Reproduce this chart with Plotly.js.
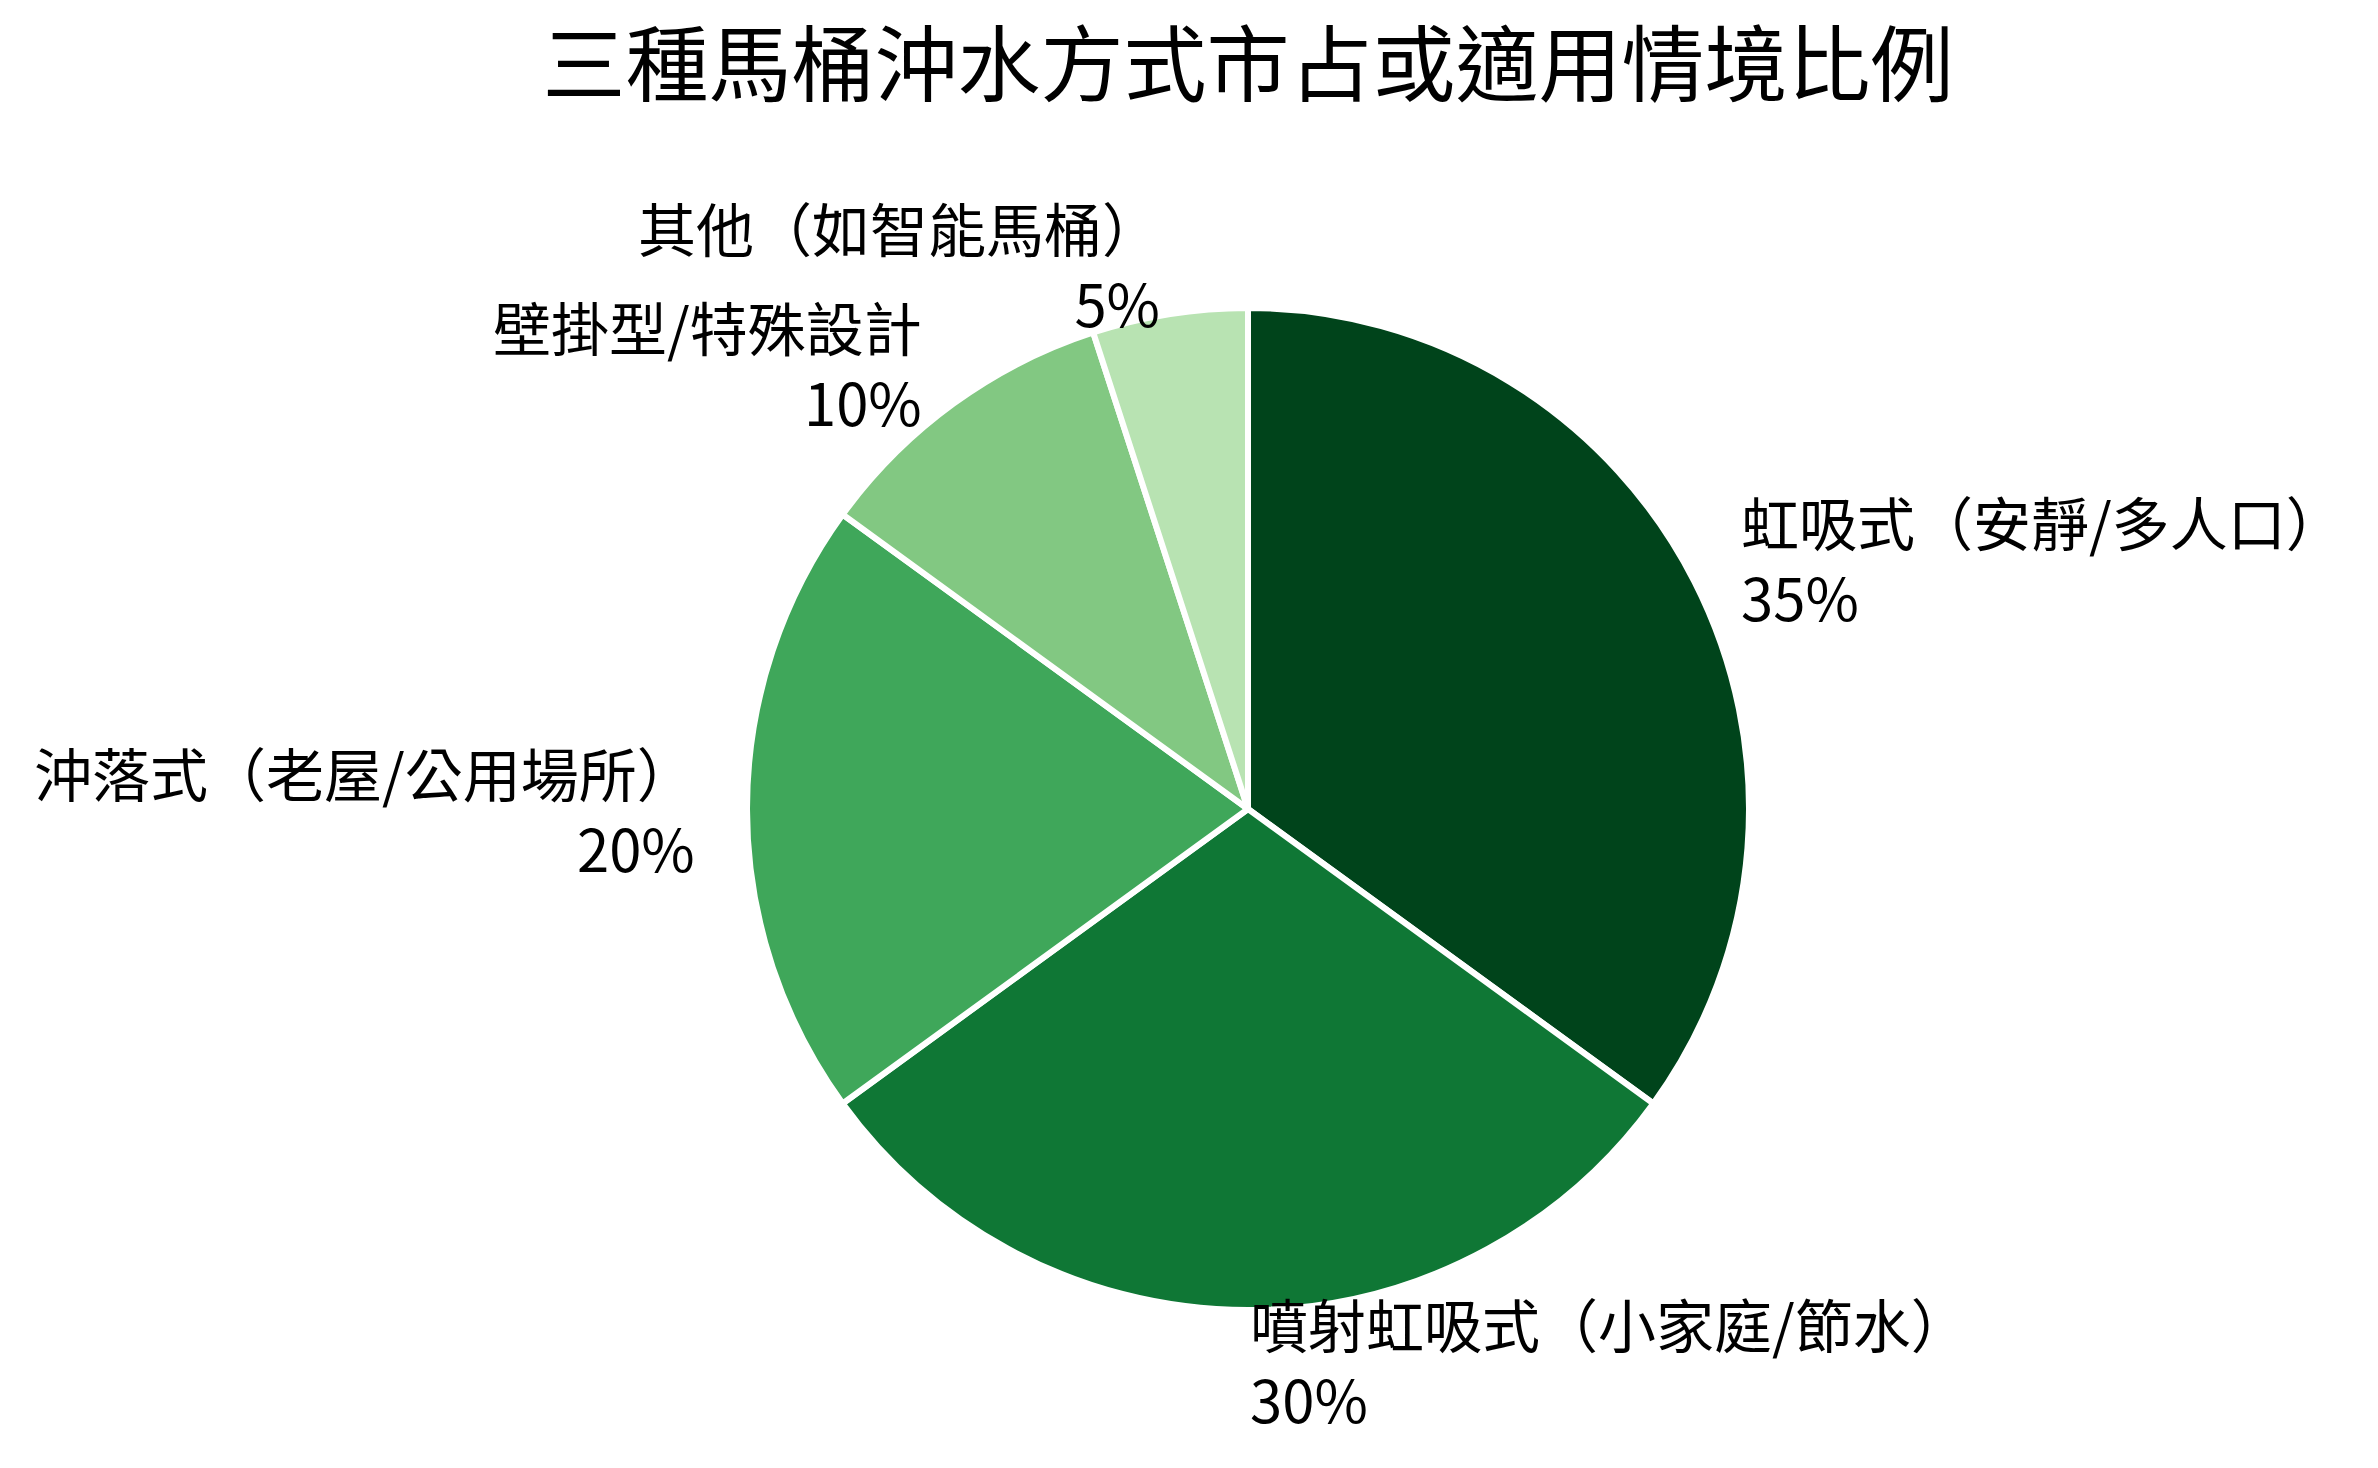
<!DOCTYPE html>
<html>
<head>
<meta charset="utf-8">
<script src="https://cdn.plot.ly/plotly-3.0.1.min.js"></script>
<style>html,body{margin:0;padding:0;background:#fff;}#chart{width:2378px;height:1468px;}</style>
</head>
<body>
<div id="chart"></div>
<script>
// ---- data ----
const categories = ['虹吸式（安靜/多人口）', '噴射虹吸式（小家庭/節水）', '沖落式（老屋/公用場所）', '壁掛型/特殊設計', '其他（如智能馬桶）'];
const shares = [35, 30, 20, 10, 5];
const colors = ['#00441b', '#0f7735', '#3fa75a', '#82c882', '#b8e3b2'];
const chartTitle = '三種馬桶沖水方式市占或適用情境比例';

// ---- layout geometry ----
const W = 2378, H = 1468;
const CX = 1248, CY = 809, R = 501;
const FONT = '"Noto Sans CJK TC", "Noto Sans CJK SC", sans-serif';
const LABEL_SIZE = 58;

const domainX = [(CX - R) / W, (CX + R) / W];
const domainY = [1 - (CY + R) / H, 1 - (CY - R) / H];

// label annotations placed from the data (mid-angle of each slice, 1.1 radius)
const total = shares.reduce((a, b) => a + b, 0);
const annotations = [];
let startDeg = 90;
shares.forEach((v, i) => {
  const sweep = 360 * v / total;
  const mid = (startDeg - sweep / 2) * Math.PI / 180;
  startDeg -= sweep;
  const px = CX + 1.1 * R * Math.cos(mid);
  const py = CY - 1.1 * R * Math.sin(mid);
  const anchor = Math.cos(mid) > 0 ? 'left' : 'right';
  const pct = Math.round(100 * v / total) + '%';
  annotations.push({
    text: categories[i] + '<br>' + pct, xref: 'paper', yref: 'paper',
    x: px / W, y: 1 - py / H, xanchor: anchor, yanchor: 'middle', align: anchor,
    showarrow: false, font: {family: FONT, size: LABEL_SIZE, color: '#000'}
  });
});

const trace = {
  type: 'pie',
  labels: categories,
  values: shares,
  sort: false,
  direction: 'clockwise',
  rotation: 0,
  textinfo: 'none',
  hoverinfo: 'label+percent',
  marker: {colors: colors, line: {color: '#ffffff', width: 6}},
  domain: {x: domainX, y: domainY},
  showlegend: false
};

const layout = {
  width: W, height: H,
  margin: {l: 0, r: 0, t: 0, b: 0, pad: 0},
  paper_bgcolor: '#ffffff',
  plot_bgcolor: '#ffffff',
  showlegend: false,
  title: {
    text: chartTitle,
    x: CX / W, xanchor: 'center', xref: 'paper',
    y: 1 - 66 / H, yanchor: 'middle', yref: 'container',
    font: {family: FONT, size: 83, color: '#000'}
  },
  annotations: annotations
};

Plotly.newPlot('chart', [trace], layout, {displayModeBar: false, staticPlot: true});
</script>
</body>
</html>
